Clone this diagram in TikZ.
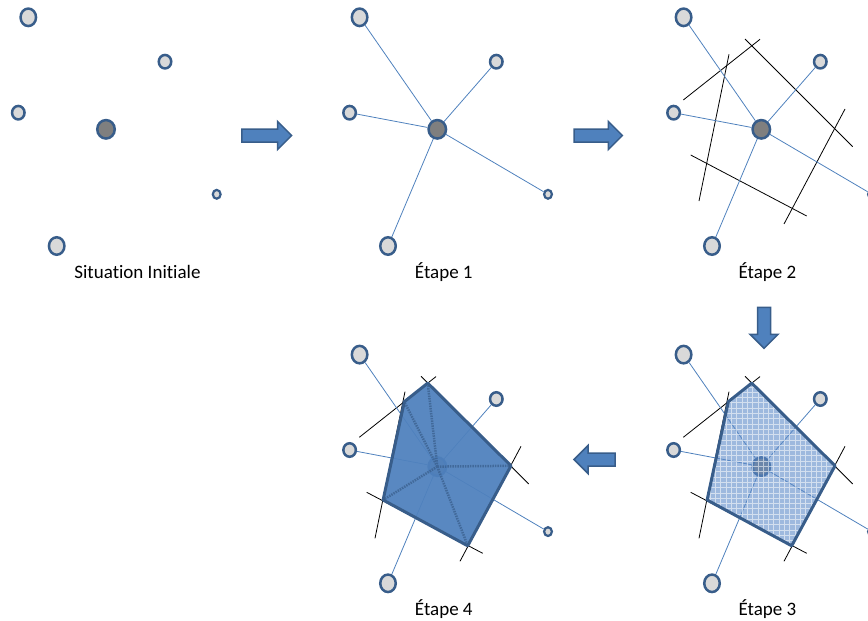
\documentclass[tikz,border=0pt]{standalone}
\usepackage{fontspec}
\setmainfont{Carlito}[Ligatures=NoCommon]
\usetikzlibrary{shapes.geometric}

\definecolor{siteedge}{HTML}{385D8A}
\definecolor{sitefill}{HTML}{D9D9D9}
\definecolor{centrefill}{HTML}{7F7F7F}
\definecolor{linkblue}{HTML}{4F81BD}
\definecolor{gridblue}{HTML}{5E8BC8}

\begin{document}
\begin{tikzpicture}[
    x=1pt, y=-1pt,
    site/.style={ellipse, draw=siteedge, fill=sitefill, line width=2.5pt, inner sep=0pt},
    big/.style={site, minimum width=15.5pt, minimum height=17.5pt},
    mid/.style={site, minimum width=12.5pt, minimum height=13.5pt},
    small/.style={site, line width=2.2pt, minimum width=7.8pt, minimum height=8.8pt},
    centre/.style={site, fill=centrefill, minimum width=17.5pt, minimum height=18.5pt},
    link/.style={draw=linkblue, line width=0.8pt},
    cutline/.style={draw=black, line width=0.8pt},
    cellborder/.style={draw=siteedge, line width=3pt, line join=round},
    spoke/.style={draw=siteedge, line width=2.5pt, dash pattern=on 1.5pt off 1pt, opacity=0.7},
    arrowbody/.style={fill=linkblue, draw=siteedge, line width=1.5pt},
    caption/.style={font=\fontsize{19}{22}\selectfont, anchor=base},
    sites/.pic={
        \node [big] (-a) at (28.3,17.3) {};
        \node [mid] (-b) at (165,61.7) {};
        \node [mid] (-c) at (18.3,112.7) {};
        \node [centre] (-d) at (106,129.3) {};
        \node [small] (-e) at (216.7,194.3) {};
        \node [big] (-f) at (56.7,246) {};
    },
    cutlines/.pic={
        \draw [cutline] (28,100) -- (104.7,39.3);
        \draw [cutline] (73.7,54.3) -- (43.7,201);
        \draw [cutline] (89.7,39) -- (197.4,146.7);
        \draw [cutline] (189.7,109) -- (128.7,224);
        \draw [cutline] (35.4,155) -- (151.4,216);
        \coordinate (-v1) at (96.4,45.8);
        \coordinate (-v2) at (73,64.4);
        \coordinate (-v3) at (51.8,162.7);
        \coordinate (-v4) at (136.4,208.5);
        \coordinate (-v5) at (179.7,128.5);
    },
    pics/flowarrow/.style={code={
        \filldraw [arrowbody] (-#1/2,-6.5) -- (#1/2-14,-6.5) -- (#1/2-14,-14) -- (#1/2,0)
            -- (#1/2-14,14) -- (#1/2-14,6.5) -- (-#1/2,6.5) -- cycle;
    }}
]
    \useasboundingbox (0,0) rectangle (868,621);
    \clip (0,0) rectangle (868,621);

    % --- bisector lines (Etape 2, 3, 4) ---
    \pic (k2) at (655.3,0) {cutlines};
    \pic (k3) at (655.3,337.3) {cutlines};
    \pic (k4) at (331.3,337.3) {cutlines};

    % --- sites of every panel ---
    \pic (p0) at (0,0) {sites};
    \pic (p1) at (331.3,0) {sites};
    \pic (p2) at (655.3,0) {sites};
    \pic (p3) at (655.3,337.3) {sites};
    \pic (p4) at (331.3,337.3) {sites};

    % --- links to the centre ---
    \draw [link] (p1-d) -- (p1-a) (p1-d) -- (p1-b) (p1-d) -- (p1-c) (p1-d) -- (p1-e) (p1-d) -- (p1-f);
    \draw [link] (p2-d) -- (p2-a) (p2-d) -- (p2-b) (p2-d) -- (p2-c) (p2-d) -- (p2-e) (p2-d) -- (p2-f);
    \draw [link] (p3-d) -- (p3-a) (p3-d) -- (p3-b) (p3-d) -- (p3-c) (p3-d) -- (p3-e) (p3-d) -- (p3-f);
    \draw [link] (p4-d) -- (p4-a) (p4-d) -- (p4-b) (p4-d) -- (p4-c) (p4-d) -- (p4-e) (p4-d) -- (p4-f);

    % --- Etape 3: gridded cell ---
    \begin{scope}
        \clip (k3-v1) -- (k3-v2) -- (k3-v3) -- (k3-v4) -- (k3-v5) -- cycle;
        \fill [gridblue, opacity=0.6] (k3-v3 |- k3-v1) rectangle (k3-v5 |- k3-v4);
        \draw [white, line width=0.7pt, opacity=0.55, step=5.3pt] (k3-v3 |- k3-v1) grid (k3-v5 |- k3-v4);
    \end{scope}
    \draw [cellborder] (k3-v1) -- (k3-v2) -- (k3-v3) -- (k3-v4) -- (k3-v5) -- cycle;

    % --- Etape 4: filled cell ---
    \fill [linkblue, opacity=0.94] (k4-v1) -- (k4-v2) -- (k4-v3) -- (k4-v4) -- (k4-v5) -- cycle;
    \draw [spoke] (p4-d.center) -- (k4-v1) (p4-d.center) -- (k4-v2) (p4-d.center) -- (k4-v3)
        (p4-d.center) -- (k4-v4) (p4-d.center) -- (k4-v5);
    \draw [cellborder] (k4-v1) -- (k4-v2) -- (k4-v3) -- (k4-v4) -- (k4-v5) -- cycle;

    % --- arrows between the panels ---
    \pic at (266.8,135.5) {flowarrow=49.7};
    \pic at (598.2,135.5) {flowarrow=48.3};
    \pic [rotate=-90] at (764,327.8) {flowarrow=41};
    \pic [rotate=180] at (594.5,459.5) {flowarrow=41};

    % --- captions ---
    \node [caption] (cap0) at (137.5,278.3) {Situation Initiale};
    \node [caption] (cap1) at (443.8,278.3) {Étape 1};
    \node [caption] (cap2) at (767.5,278.3) {Étape 2};
    \node [caption] (cap3) at (767.5,615) {Étape 3};
    \node [caption] (cap4) at (443.8,615) {Étape 4};
\end{tikzpicture}
\end{document}
